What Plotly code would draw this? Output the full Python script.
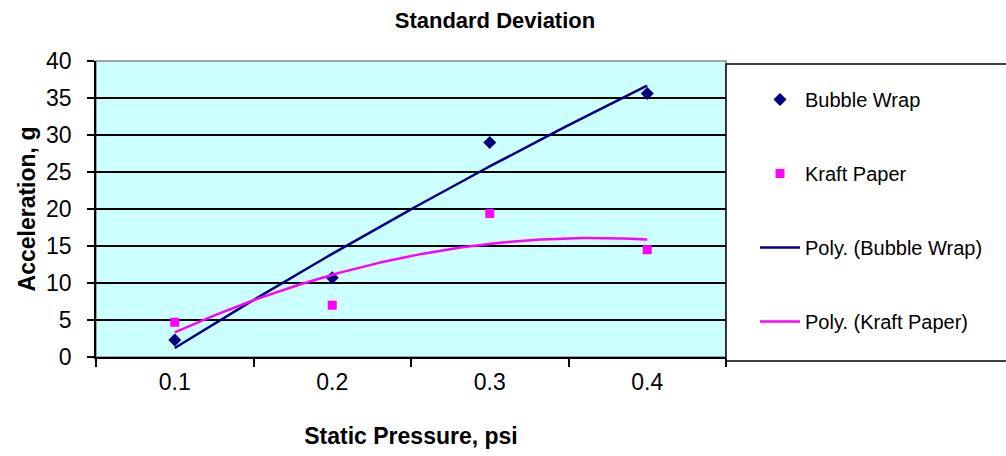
import numpy as np
import plotly.graph_objects as go

categories = ["0.1", "0.2", "0.3", "0.4"]
bubble_wrap = [2.3, 10.7, 29.0, 35.6]
kraft_paper = [4.7, 7.0, 19.4, 14.5]
y_ticks = [0, 5, 10, 15, 20, 25, 30, 35, 40]

NAVY = "#000080"
MAGENTA = "#FF00FF"
FONT = "Liberation Sans, Arial, sans-serif"

xpos = np.arange(1, len(categories) + 1)
xfit = np.linspace(1, len(categories), 200)
bw_fit = np.polyval(np.polyfit(xpos, bubble_wrap, 2), xfit)
kp_fit = np.polyval(np.polyfit(xpos, kraft_paper, 2), xfit)

fig = go.Figure()
fig.add_trace(go.Scatter(x=xpos, y=bubble_wrap, mode="markers", name="Bubble Wrap",
                         legendgroup="a",
                         marker=dict(symbol="diamond", size=10, color=NAVY)))
fig.add_trace(go.Scatter(x=xpos, y=kraft_paper, mode="markers", name="Kraft Paper",
                         legendgroup="b",
                         marker=dict(symbol="square", size=9, color=MAGENTA)))
fig.add_trace(go.Scatter(x=xfit, y=bw_fit, mode="lines", name="Poly. (Bubble Wrap)",
                         legendgroup="c",
                         line=dict(color=NAVY, width=2.5)))
fig.add_trace(go.Scatter(x=xfit, y=kp_fit, mode="lines", name="Poly. (Kraft Paper)",
                         legendgroup="d",
                         line=dict(color=MAGENTA, width=2.5)))

L, R, T, B = 96, 280, 61, 99
W, H = 1006, 456
pw, ph = W - L - R, H - T - B

def px_x(px):
    return (px - L) / pw

def px_y(py):
    return (H - B - py) / ph

fig.update_layout(
    width=W, height=H,
    margin=dict(l=L, r=R, t=T, b=B, pad=0),
    paper_bgcolor="white",
    plot_bgcolor="#CCFFFF",
    font=dict(family=FONT, color="black", size=20),
    title=dict(text="<b>Standard Deviation</b>", x=0.492, xref="container", xanchor="center",
               y=1 - 20 / H, yref="container", yanchor="middle",
               font=dict(size=22, family=FONT, color="black")),
    showlegend=True,
    legend=dict(x=px_x(755), y=px_y(80), xanchor="left", yanchor="top",
                font=dict(size=20, family=FONT, color="black"),
                bgcolor="rgba(0,0,0,0)", borderwidth=0,
                tracegroupgap=45, itemwidth=40),
    shapes=[
        dict(type="rect", xref="paper", yref="paper", x0=0, x1=1, y0=0, y1=1,
             line=dict(color="#888888", width=1.5), fillcolor="rgba(0,0,0,0)", layer="below"),
        dict(type="rect", xref="paper", yref="paper", x0=px_x(726), x1=px_x(1012),
             y0=px_y(361), y1=px_y(64),
             line=dict(color="black", width=1.5), fillcolor="white", layer="below"),
    ],
)

fig.update_xaxes(
    range=[0.5, len(categories) + 0.5],
    tickmode="array", tickvals=list(xpos), ticktext=categories,
    ticks="", showgrid=False, zeroline=False,
    showline=True, linecolor="black", linewidth=1.5,
    ticklabelstandoff=4,
    tickfont=dict(size=23, family=FONT, color="black"),
    minor=dict(tickmode="array", tickvals=[i + 0.5 for i in range(len(categories) + 1)],
               ticks="outside", ticklen=8, tickwidth=1.5, tickcolor="black", showgrid=False),
    title=dict(text="<b>Static Pressure, psi</b>", standoff=34,
               font=dict(size=23, family=FONT, color="black")),
)
fig.update_yaxes(
    range=[0, 40], tickmode="array", tickvals=y_ticks,
    ticks="outside", ticklen=7, tickwidth=1.5, tickcolor="black",
    showgrid=True, gridcolor="black", gridwidth=1.5, zeroline=False,
    showline=True, linecolor="black", linewidth=1.5,
    ticklabelstandoff=11,
    tickfont=dict(size=23, family=FONT, color="black"),
    title=dict(text="<b>Acceleration, g</b>", standoff=4,
               font=dict(size=23, family=FONT, color="black")),
)

fig.write_html("out.html")
